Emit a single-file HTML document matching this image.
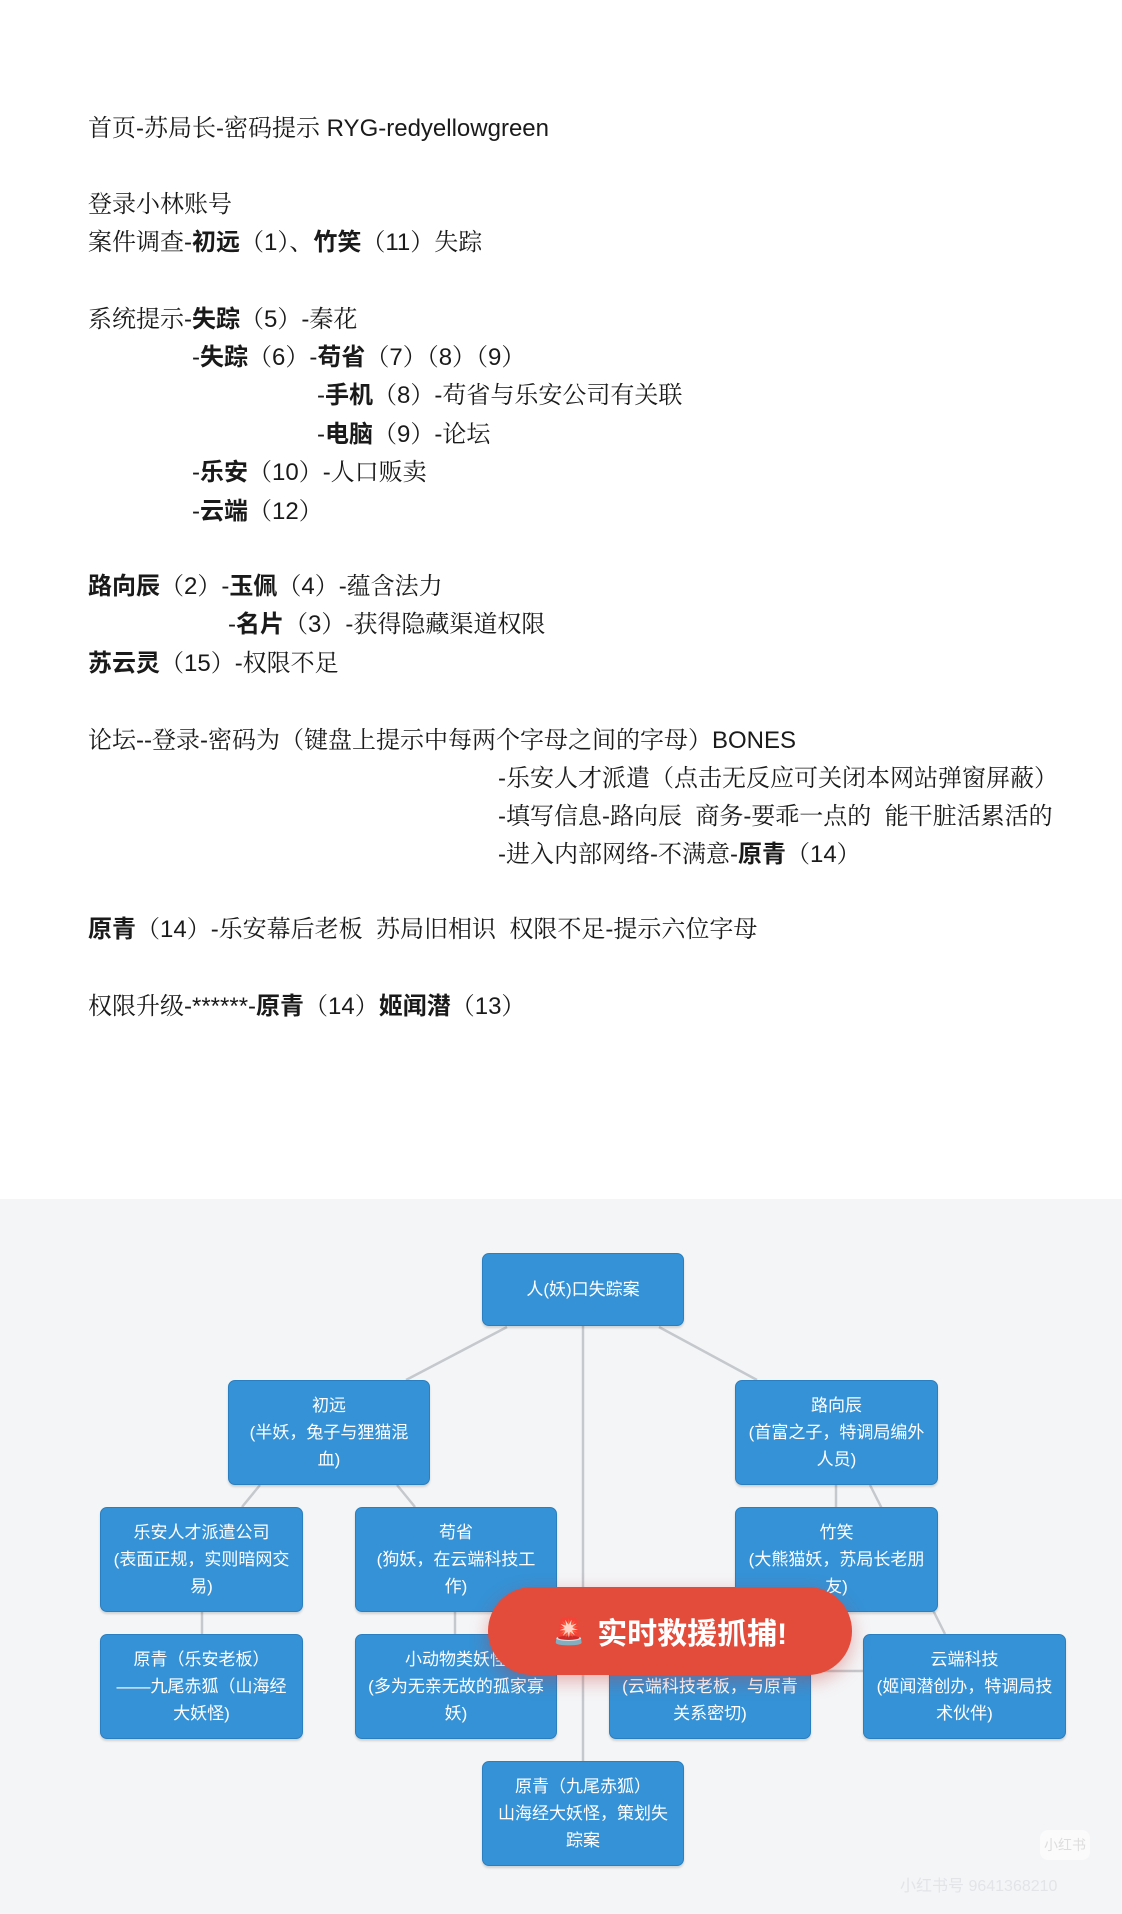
<!DOCTYPE html>
<html><head><meta charset="utf-8"><style>
html,body{margin:0;padding:0;background:#fff;}
body{width:1122px;height:1914px;position:relative;overflow:hidden;font-family:"Liberation Sans","Noto Serif CJK SC",serif;color:#1a1a1a;}
.l{position:absolute;font-size:24px;line-height:30px;white-space:pre;}
.l b{font-family:"Liberation Sans","Noto Sans CJK SC",sans-serif;font-weight:700;}
.lat{font-family:"Liberation Sans","Noto Sans CJK SC",sans-serif;}
#diag{position:absolute;left:0;top:1199px;width:1122px;height:715px;background:#f4f5f7;}
.n{position:absolute;background:#3592d6;border:1px solid #2a7fc0;border-radius:7px;color:#fff;font-family:"Liberation Sans","Noto Sans CJK SC",sans-serif;font-size:17px;line-height:27px;text-align:center;display:flex;align-items:center;justify-content:center;box-sizing:border-box;padding:0 10px;box-shadow:0 2px 2px rgba(0,0,0,0.15);}
.pill{position:absolute;left:488px;top:1587px;width:364px;height:88px;border-radius:44px;background:#e34b3a;box-shadow:0 6px 18px rgba(200,50,40,0.35);color:#fff;font-family:"Liberation Sans","Noto Sans CJK SC",sans-serif;font-weight:700;font-size:30px;display:flex;align-items:center;justify-content:center;}
</style></head><body>
<div class="l" style="left:88px;top:114px">首页-苏局长-密码提示 <span class="lat">RYG-redyellowgreen</span></div>
<div class="l" style="left:88px;top:190px">登录小林账号</div>
<div class="l" style="left:88px;top:228px">案件调查-<b>初远</b>（1）、<b>竹笑</b>（11）失踪</div>
<div class="l" style="left:88px;top:305px">系统提示-<b>失踪</b>（5）-秦花</div>
<div class="l" style="left:192px;top:343px">-<b>失踪</b>（6）-<b>苟省</b>（7）（8）（9）</div>
<div class="l" style="left:317px;top:381px">-<b>手机</b>（8）-苟省与乐安公司有关联</div>
<div class="l" style="left:317px;top:420px">-<b>电脑</b>（9）-论坛</div>
<div class="l" style="left:192px;top:458px">-<b>乐安</b>（10）-人口贩卖</div>
<div class="l" style="left:192px;top:497px">-<b>云端</b>（12）</div>
<div class="l" style="left:88px;top:572px"><b>路向辰</b>（2）-<b>玉佩</b>（4）-蕴含法力</div>
<div class="l" style="left:228px;top:610px">-<b>名片</b>（3）-获得隐藏渠道权限</div>
<div class="l" style="left:88px;top:649px"><b>苏云灵</b>（15）-权限不足</div>
<div class="l" style="left:88px;top:726px">论坛--登录-密码为（键盘上提示中每两个字母之间的字母）<span class="lat">BONES</span></div>
<div class="l" style="left:498px;top:764px">-乐安人才派遣（点击无反应可关闭本网站弹窗屏蔽）</div>
<div class="l" style="left:498px;top:802px">-填写信息-路向辰  商务-要乖一点的  能干脏活累活的</div>
<div class="l" style="left:498px;top:840px">-进入内部网络-不满意-<b>原青</b>（14）</div>
<div class="l" style="left:88px;top:915px"><b>原青</b>（14）-乐安幕后老板  苏局旧相识  权限不足-提示六位字母</div>
<div class="l" style="left:88px;top:992px">权限升级-******-<b>原青</b>（14）<b>姬闻潜</b>（13）</div>

<div id="diag"></div>
<svg style="position:absolute;left:0;top:0" width="1122" height="1914">
<g stroke="#c5c8cc" stroke-width="2.5" fill="none">
<line x1="583" y1="1326" x2="583" y2="1761"/>
<line x1="507" y1="1327" x2="406" y2="1380"/>
<line x1="659" y1="1327" x2="757" y2="1380"/>
<line x1="260" y1="1485" x2="242" y2="1507"/>
<line x1="397" y1="1485" x2="415" y2="1507"/>
<line x1="202" y1="1612" x2="202" y2="1634"/>
<line x1="455" y1="1612" x2="455" y2="1634"/>
<line x1="836" y1="1485" x2="836" y2="1507"/>
<line x1="870" y1="1485" x2="945" y2="1634"/>
<line x1="811" y1="1671" x2="863" y2="1671"/>
</g></svg>
<div class="n" style="left:228px;top:1380px;width:202px;height:105px">初远<br>(半妖，兔子与狸猫混血)</div>
<div class="n" style="left:482px;top:1253px;width:202px;height:73px">人(妖)口失踪案</div>
<div class="n" style="left:735px;top:1380px;width:203px;height:105px">路向辰<br>(首富之子，特调局编外人员)</div>
<div class="n" style="left:100px;top:1507px;width:203px;height:105px">乐安人才派遣公司<br>(表面正规，实则暗网交易)</div>
<div class="n" style="left:355px;top:1507px;width:202px;height:105px">苟省<br>(狗妖，在云端科技工作)</div>
<div class="n" style="left:735px;top:1507px;width:203px;height:105px">竹笑<br>(大熊猫妖，苏局长老朋友)</div>
<div class="n" style="left:100px;top:1634px;width:203px;height:105px">原青（乐安老板）<br>——九尾赤狐（山海经大妖怪)</div>
<div class="n" style="left:355px;top:1634px;width:202px;height:105px">小动物类妖怪<br>(多为无亲无故的孤家寡妖)</div>
<div class="n" style="left:609px;top:1634px;width:202px;height:105px">姬闻潜<br>(云端科技老板，与原青关系密切)</div>
<div class="n" style="left:863px;top:1634px;width:203px;height:105px">云端科技<br>(姬闻潜创办，特调局技术伙伴)</div>
<div class="n" style="left:482px;top:1761px;width:202px;height:105px">原青（九尾赤狐）<br>山海经大妖怪，策划失踪案</div>
<div class="pill"><span style="font-size:26px;margin-right:12px">🚨</span>实时救援抓捕!</div>
<div style="position:absolute;left:1040px;top:1830px;width:50px;height:30px;border-radius:8px;background:rgba(255,255,255,0.6);color:#ddd;font-family:'Liberation Sans','Noto Sans CJK SC',sans-serif;font-size:14px;text-align:center;line-height:30px">小红书</div>
<div style="position:absolute;left:900px;top:1872px;color:#e2e4e8;font-family:'Liberation Sans','Noto Sans CJK SC',sans-serif;font-size:16px">小红书号 9641368210</div>
</body></html>
